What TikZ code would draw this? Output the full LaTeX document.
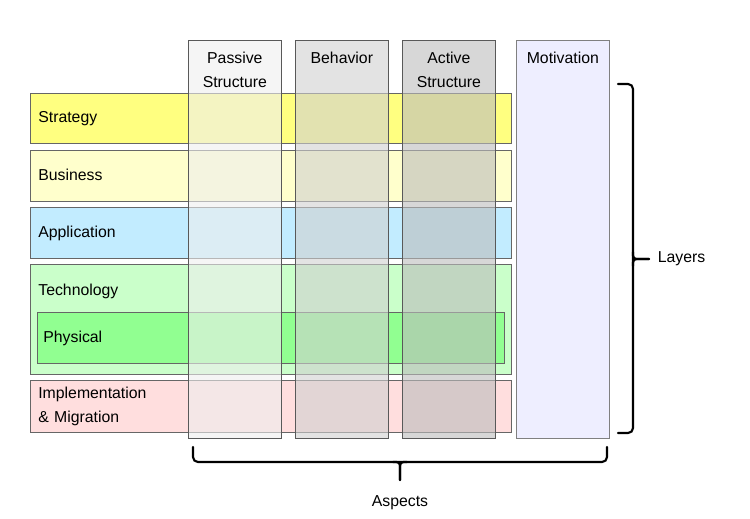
\documentclass[tikz,border=0pt]{standalone}
\usepackage{fontspec}
\setmainfont{Liberation Sans}

\definecolor{strategy}{RGB}{255,255,128}
\definecolor{business}{RGB}{255,255,204}
\definecolor{application}{RGB}{194,236,255}
\definecolor{technology}{RGB}{202,255,202}
\definecolor{physical}{RGB}{145,255,145}
\definecolor{implementation}{RGB}{255,222,222}
\definecolor{passive}{RGB}{238,238,238}
\definecolor{behavior}{RGB}{208,208,208}
\definecolor{active}{RGB}{188,188,188}
\definecolor{motivation}{RGB}{238,238,255}

\begin{document}
\begin{tikzpicture}[x=0.02cm, y=-0.02cm, font=\fontsize{9}{13.5}\selectfont]
    \tikzstyle{layer}=[rectangle,
                       draw=black!60,
                       anchor=north west,
                       text width=9.3cm,
                       inner xsep=0.16cm,
                       align=left]
    \tikzstyle{oneline}=[text depth=1pt]
    \tikzstyle{aspect}=[rectangle,
                        draw=black!65,
                        anchor=north west,
                        minimum width=1.86cm,
                        minimum height=7.96cm,
                        fill opacity=0.6]
    \tikzstyle{head}=[anchor=north, align=center, inner sep=2pt,
                      yshift=-4.7pt, text opacity=1]
    \tikzstyle{bracket}=[line width=1.2pt, line cap=round]

    \useasboundingbox (0,0) rectangle (750,518);

    % layers
    \node[layer, oneline, fill=strategy, minimum height=1.0cm]   (S) at (30,93)  {Strategy};
    \node[layer, oneline, fill=business, minimum height=1.02cm]  (B) at (30,150) {Business};
    \node[layer, oneline, fill=application, minimum height=1.02cm] (A) at (30,207) {Application};
    \node[layer, fill=technology, minimum height=2.2cm,
          label={[anchor=north west, inner sep=0pt, xshift=0.16cm, yshift=-0.4cm]north west:Technology}]
          (T) at (30,264) {};
    \node[layer, oneline, fill=physical, minimum height=1.02cm, text width=9.1cm, inner xsep=0.12cm]
          (Ph) at (37,312) {Physical};
    \node[layer, fill=implementation, minimum height=1.04cm]
          (I) at (30,380) {Implementation\\\& Migration};

    % aspects
    \node[aspect, fill=passive,  label={[head]north:Passive\\Structure}] (PS) at (188,40) {};
    \node[aspect, fill=behavior, label={[head]north:Behavior}]           (BH) at (295,40) {};
    \node[aspect, fill=active,   label={[head]north:Active\\Structure}]  (AS) at (402,40) {};
    \node[aspect, fill=motivation, fill opacity=1, draw=black!50,
          label={[head]north:Motivation}] (M) at (516,40) {};

    % braces
    \coordinate (ltop) at (618,84);
    \coordinate (lbot) at (618,433);
    \coordinate (ltip) at (649,259);
    \draw[bracket, rounded corners=2.8pt] (ltop) -| (633,259) |- (lbot);
    \draw[bracket, rounded corners=2pt] (633,252) |- (ltip);
    \draw[bracket, rounded corners=2pt] (633,266) |- (ltip);
    \node[right=1.5pt] (layers) at (ltip) {Layers};

    \coordinate (aleft) at (193,447);
    \coordinate (aright) at (607,447);
    \coordinate (atip) at (400,480);
    \draw[bracket, rounded corners=2.8pt] (aleft) |- (400,462) -| (aright);
    \draw[bracket, rounded corners=2pt] (393,462) -| (atip);
    \draw[bracket, rounded corners=2pt] (407,462) -| (atip);
    \node[below=5.5pt] (aspects) at (atip) {Aspects};
\end{tikzpicture}
\end{document}
